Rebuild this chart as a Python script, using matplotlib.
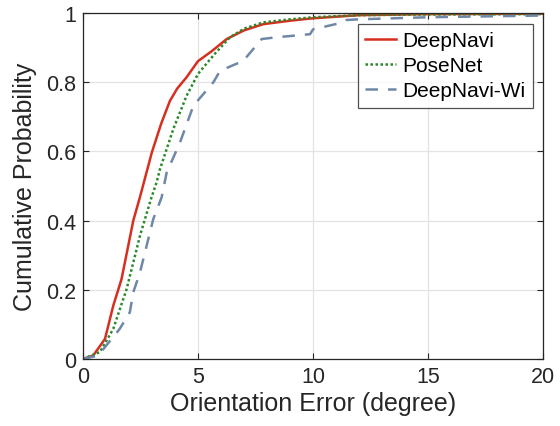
import numpy as np
import matplotlib
matplotlib.use("Agg")
import matplotlib.pyplot as plt

plt.rcParams['font.family'] = ['Liberation Sans', 'DejaVu Sans']

x_deepnavi = [0.0, 0.45, 0.96, 1.32, 1.68, 2.19, 2.48, 3.0, 3.4, 3.78, 4.1, 4.5, 5.0, 5.6, 6.25, 7.0, 7.84, 9.0, 10.0, 12.0, 15.0, 20.0]
p_deepnavi = [0.0, 0.01, 0.058, 0.154, 0.231, 0.40, 0.468, 0.598, 0.68, 0.746, 0.782, 0.814, 0.861, 0.89, 0.925, 0.95, 0.968, 0.978, 0.985, 0.994, 0.997, 0.998]

x_posenet = [0.0, 0.74, 1.32, 1.9, 2.48, 2.98, 3.2, 3.35, 3.93, 4.5, 5.0, 5.7, 6.39, 7.0, 7.83, 9.0, 10.0, 12.0, 15.0, 20.0]
p_posenet = [0.0, 0.02, 0.087, 0.202, 0.356, 0.467, 0.51, 0.549, 0.665, 0.76, 0.824, 0.88, 0.93, 0.955, 0.973, 0.982, 0.988, 0.994, 0.996, 0.997]

x_wi = [0.0, 0.67, 1.03, 1.6, 2.04, 2.19, 2.48, 3.06, 3.42, 3.64, 4.22, 4.8, 5.67, 5.96, 6.97, 7.77, 8.4, 9.87, 10.0, 11.3, 11.45, 12.0, 15.0, 20.0]
p_wi = [0.0, 0.01, 0.04, 0.087, 0.135, 0.193, 0.25, 0.405, 0.467, 0.539, 0.626, 0.732, 0.80, 0.833, 0.862, 0.925, 0.93, 0.939, 0.953, 0.973, 0.98, 0.982, 0.988, 0.993]

fig = plt.figure(figsize=(5.6, 4.27), dpi=100)
ax = fig.add_axes([0.148, 0.157, 0.822, 0.81])

ax.plot(x_deepnavi, p_deepnavi, color='#d62f1f', lw=1.8, label='DeepNavi')
ax.plot(x_posenet, p_posenet, color='#2a8a2a', lw=1.8, ls=(0, (1, 1)), label='PoseNet')
ax.plot(x_wi, p_wi, color='#6f88a8', lw=1.8, ls=(0, (5, 4)), label='DeepNavi-Wi')

ax.set_xlim(0, 20)
ax.set_ylim(0, 1)
ax.set_xticks([0, 5, 10, 15, 20])
ax.set_yticks([0, 0.2, 0.4, 0.6, 0.8, 1])
ax.set_yticklabels(['0', '0.2', '0.4', '0.6', '0.8', '1'])
ax.grid(True, color='#e3e3e3', lw=0.9)
ax.set_axisbelow(True)
ax.tick_params(direction='in', labelsize=15.5, colors='#262626', length=4, top=True, right=True, pad=5)
for s in ax.spines.values():
    s.set_color('#262626')
    s.set_linewidth(0.9)
ax.set_xlabel('Orientation Error (degree)', fontsize=18, color='#262626', labelpad=3)
ax.set_ylabel('Cumulative Probability', fontsize=18, color='#262626', labelpad=6)

leg = ax.legend(loc='upper right', fontsize=15, frameon=True, fancybox=False,
                edgecolor='#262626', handlelength=1.5, borderpad=0.35,
                labelspacing=0.3, handletextpad=0.3, borderaxespad=0.5)
leg.get_frame().set_linewidth(0.9)

fig.savefig('out.png', dpi=100)
